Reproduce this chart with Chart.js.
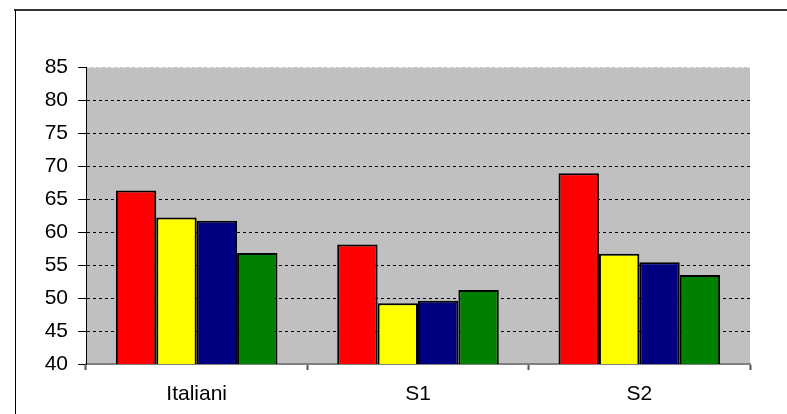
<!DOCTYPE html>
<html>
<head>
<meta charset="utf-8">
<script src="https://cdn.jsdelivr.net/npm/chart.js@4"></script>
<style>
html,body{margin:0;padding:0;background:#fff;}
#wrap{width:787px;height:414px;position:relative;}
</style>
</head>
<body>
<div id="wrap"><canvas id="c" width="787" height="414"></canvas></div>
<script>
const categories = ["Italiani", "S1", "S2"];
const series1 = [66.3, 58.1, 68.9];
const series2 = [62.2, 49.2, 56.7];
const series3 = [61.7, 49.6, 55.4];
const series4 = [56.8, 51.2, 53.5];
const seriesNames = ["Serie 1", "Serie 2", "Serie 3", "Serie 4"];
const seriesColors = ["#FF0000", "#FFFF00", "#000080", "#008000"];
const yMin = 40, yMax = 85, yStep = 5;

const bgPlugin = {
  id: 'bg',
  beforeDraw(chart) {
    const {ctx, chartArea: a} = chart;
    ctx.save();
    ctx.fillStyle = '#fff';
    ctx.fillRect(0, 0, chart.width, chart.height);
    ctx.fillStyle = '#C0C0C0';
    ctx.fillRect(a.left, a.top, a.right - a.left, a.bottom - a.top);
    ctx.strokeStyle = '#333';
    ctx.lineWidth = 2;
    ctx.beginPath();
    ctx.moveTo(14, 10);
    ctx.lineTo(chart.width, 10);
    ctx.stroke();
    ctx.strokeStyle = '#000';
    ctx.lineWidth = 1;
    ctx.beginPath();
    ctx.moveTo(15.5, 10);
    ctx.lineTo(15.5, chart.height);
    ctx.stroke();
    ctx.restore();
  },
  afterDraw(chart) {
    // solid left axis line over dashed grid
    const {ctx, chartArea: a} = chart;
    ctx.save();
    ctx.strokeStyle = '#000';
    ctx.lineWidth = 1;
    ctx.setLineDash([]);
    ctx.beginPath();
    ctx.moveTo(a.left + 0.5, a.top);
    ctx.lineTo(a.left + 0.5, a.bottom);
    ctx.stroke();
    ctx.restore();
  }
};

const data = {
  labels: categories,
  datasets: [series1, series2, series3, series4].map((d, i) => ({
    label: seriesNames[i],
    data: d,
    backgroundColor: seriesColors[i],
    borderColor: '#000',
    borderWidth: 2,
    borderSkipped: false,
    barPercentage: 1.0,
    categoryPercentage: 0.73
  }))
};

new Chart(document.getElementById('c'), {
  type: 'bar',
  data: data,
  plugins: [bgPlugin],
  options: {
    responsive: false,
    animation: false,
    devicePixelRatio: 1,
    layout: { padding: { left: 0, right: 37, top: 67, bottom: 0 } },
    plugins: { legend: { display: false }, tooltip: { enabled: false } },
    scales: {
      x: {
        afterFit(s) { s.height = 50; },
        grid: {
          offset: true,
          drawOnChartArea: false,
          drawTicks: true,
          tickLength: 6,
          tickColor: '#555',
          tickWidth: 2
        },
        border: { display: true, color: '#808080', width: 2 },
        ticks: {
          color: '#000',
          padding: 12,
          font: { family: 'Liberation Sans, Arial, sans-serif', size: 21 }
        }
      },
      y: {
        min: yMin, max: yMax,
        afterFit(s) { s.width = 86; },
        grid: {
          color: (c) => c.tick && c.tick.value === yMax ? 'rgba(255,255,255,0.7)' : '#000',
          drawTicks: true,
          tickLength: 8,
          tickColor: '#000',
          tickBorderDash: [],
          lineWidth: 1
        },
        border: { display: true, color: '#000', width: 1, dash: [3, 3] },
        ticks: {
          stepSize: yStep,
          color: '#000',
          padding: 10,
          font: { family: 'Liberation Sans, Arial, sans-serif', size: 21 }
        }
      }
    }
  }
});
</script>
</body>
</html>
